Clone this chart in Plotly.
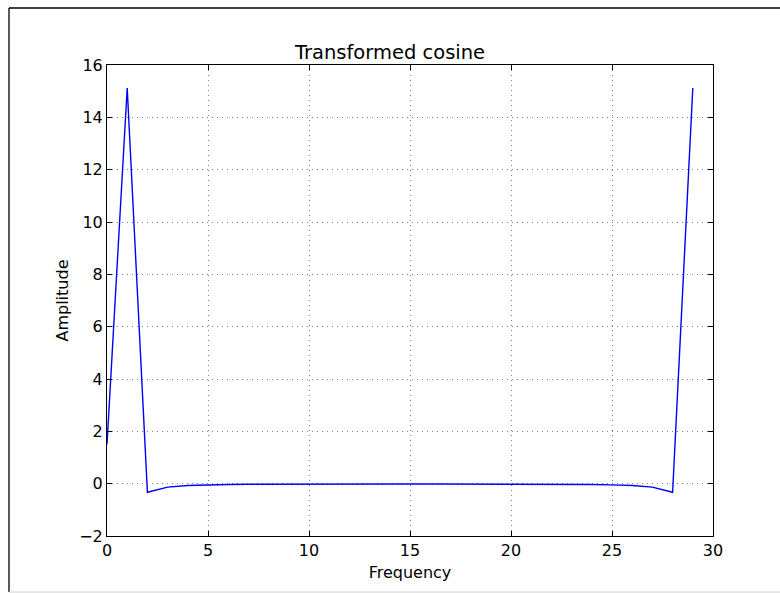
import plotly.graph_objects as go

freq = list(range(30))
amplitude = [1.5, 15.12, -0.33, -0.13, -0.07, -0.045, -0.032, -0.025, -0.02, -0.017,
             -0.015, -0.013, -0.012, -0.011, -0.011, -0.011, -0.011, -0.011, -0.012, -0.013,
             -0.015, -0.017, -0.02, -0.025, -0.032, -0.045, -0.07, -0.13, -0.33, 15.12]
x_ticks = [0, 5, 10, 15, 20, 25, 30]
y_ticks = [-2, 0, 2, 4, 6, 8, 10, 12, 14, 16]
y_tick_text = ["\u22122", "0", "2", "4", "6", "8", "10", "12", "14", "16"]

W, H = 780, 593
L, R, T, B = 107, 713, 65, 536

fig = go.Figure()
fig.add_trace(go.Scatter(x=freq, y=amplitude, mode="lines",
                         line=dict(color="#0000ff", width=1.4), showlegend=False))

font_tick = dict(family="DejaVu Sans", size=16, color="black")
axis_common = dict(showline=True, linecolor="black", linewidth=1, mirror="ticks",
                   ticks="inside", ticklen=5, tickcolor="black", tickwidth=1,
                   showgrid=True, gridcolor="#808080", griddash="1px,4px", gridwidth=1,
                   zeroline=False, tickfont=font_tick)

fig.update_xaxes(range=[0, 30], tickvals=x_ticks, ticktext=[str(v) for v in x_ticks],
                 title=dict(text="Frequency", font=font_tick, standoff=7),
                 **axis_common)
fig.update_yaxes(range=[-2, 16], tickvals=y_ticks, ticktext=y_tick_text,
                 title=dict(text="Amplitude", font=font_tick, standoff=6),
                 **axis_common)

pw, ph = R - L, B - T
def px(x):
    return (x - L) / pw
def py(y):
    return (B - y) / ph

fig.update_layout(
    width=W, height=H,
    margin=dict(l=L, r=W - R, t=T, b=H - B),
    paper_bgcolor="white", plot_bgcolor="white",
    title=dict(text="Transformed cosine", x=0.5, xanchor="center", y=1 - 52 / H, yanchor="middle",
               font=dict(family="DejaVu Sans", size=19.5, color="black")),
    shapes=[
        dict(type="line", xref="paper", yref="paper", x0=px(9), x1=px(782), y0=py(8), y1=py(8),
             line=dict(color="black", width=1.3)),
        dict(type="line", xref="paper", yref="paper", x0=px(9), x1=px(9), y0=py(8), y1=py(592),
             line=dict(color="black", width=1.3)),
        dict(type="line", xref="paper", yref="paper", x0=px(9), x1=px(782), y0=py(592), y1=py(592),
             line=dict(color="#cccccc", width=1)),
    ],
)

fig.write_html("out.html", config={"displayModeBar": False},
               post_script="document.body.style.margin='0';document.body.style.overflow='hidden';")
